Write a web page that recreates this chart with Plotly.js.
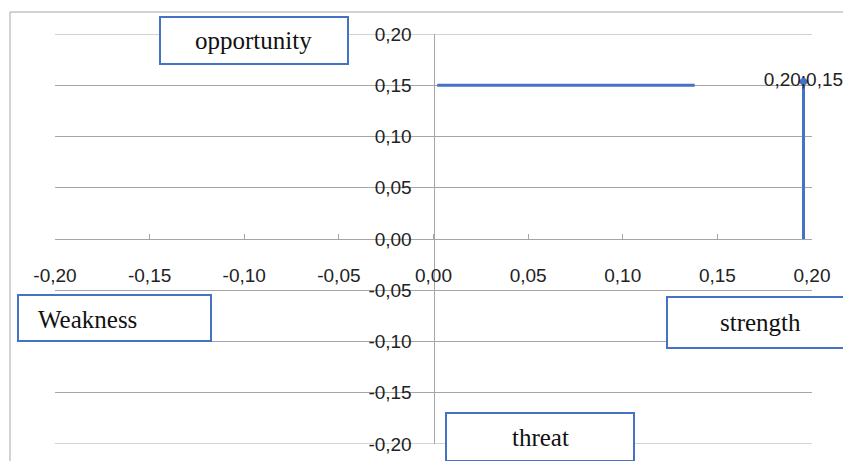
<!DOCTYPE html>
<html>
<head>
<meta charset="utf-8">
<script src="https://cdn.plot.ly/plotly-3.0.1.min.js"></script>
<style>html,body{margin:0;padding:0;background:#fff;}#chart{width:843px;height:461px;}</style>
</head>
<body>
<div id="chart"></div>
<script>
// Data
const horizX = [0.002, 0.138];
const horizY = [0.15, 0.15];
const vertX = [0.1955, 0.1955];
const vertY = [0.0, 0.1535];
const pointX = [0.1955];
const pointY = [0.1535];
const pointLabel = ['0,20;0,15'];
const tickVals = [-0.20, -0.15, -0.10, -0.05, 0.00, 0.05, 0.10, 0.15, 0.20];
const tickText = ['-0,20', '-0,15', '-0,10', '-0,05', '0,00', '0,05', '0,10', '0,15', '0,20'];
const boxLabels = ['opportunity', 'Weakness', 'strength', 'threat'];

const blue = '#4472C4';
const grid = '#a6a6a6';
const tickFont = {family: 'Liberation Sans, Arial, sans-serif', size: 19, color: '#222'};
const boxFont = {family: 'Liberation Serif, Times New Roman, serif', size: 25, color: '#111'};

const traces = [
  {x: horizX, y: horizY, mode: 'lines', line: {color: blue, width: 3}, hoverinfo: 'skip'},
  {x: vertX, y: vertY, mode: 'lines', line: {color: blue, width: 3}, hoverinfo: 'skip'},
  {x: pointX, y: pointY, mode: 'markers+text', text: pointLabel, textposition: 'middle center',
   textfont: tickFont, marker: {symbol: 'diamond', size: 8, color: blue}, cliponaxis: false, hoverinfo: 'skip'}
];

// paper coordinate helpers (plot area 55..812 x, 34..444 y)
const PT = 34, PB = 444;
const px = v => (v - 55) / 757;
const py = v => (PB - v) / (PB - PT);
const tMin = tickVals[0], tMax = tickVals[tickVals.length - 1];

function box(x0, x1, y0, y1) {
  return {type: 'rect', xref: 'paper', yref: 'paper', x0: px(x0), x1: px(x1), y0: py(y1), y1: py(y0),
          line: {color: blue, width: 2}, fillcolor: '#fff', layer: 'above'};
}
function edgeGrid(v) {
  return {type: 'line', xref: 'x', yref: 'y', x0: tMin, x1: tMax, y0: v, y1: v,
          line: {color: grid, width: 1}, layer: 'below'};
}

const layout = {
  width: 843, height: 461,
  margin: {l: 55, r: 31, t: PT, b: 461 - PB, pad: 0},
  paper_bgcolor: '#fff', plot_bgcolor: 'rgba(0,0,0,0)',
  showlegend: false,
  xaxis: {
    range: [tMin, tMax], anchor: 'free', position: 0.5,
    tickvals: tickVals, ticktext: tickText, tickfont: tickFont,
    showgrid: false, zeroline: false, showline: true, linecolor: grid, linewidth: 1,
    ticks: 'inside', ticklen: 5, tickcolor: grid, ticklabelstandoff: 19, fixedrange: true
  },
  yaxis: {
    range: [tMin, tMax], anchor: 'free', position: 0.5,
    tickvals: tickVals, ticktext: tickText, tickfont: tickFont,
    showgrid: true, gridcolor: grid, gridwidth: 1, zeroline: false, showline: true, linecolor: grid, linewidth: 1,
    ticks: '', ticklabelstandoff: 18, fixedrange: true
  },
  shapes: [
    {type: 'rect', xref: 'paper', yref: 'paper', x0: px(10), x1: 1.3, y0: -0.3, y1: py(12),
     line: {color: grid, width: 1}, fillcolor: 'rgba(0,0,0,0)', layer: 'below'},
    edgeGrid(tMin),
    edgeGrid(tMax),
    box(160, 348, 17, 64),
    box(18, 211, 295, 341),
    box(667, 856, 297, 348),
    box(446, 634, 413, 461)
  ],
  annotations: [
    {text: boxLabels[0], xref: 'paper', yref: 'paper', x: px(254), y: py(40), xanchor: 'center', yanchor: 'middle', showarrow: false, font: boxFont},
    {text: boxLabels[1], xref: 'paper', yref: 'paper', x: px(36), y: py(319), xanchor: 'left', yanchor: 'middle', showarrow: false, font: boxFont},
    {text: boxLabels[2], xref: 'paper', yref: 'paper', x: px(760), y: py(322), xanchor: 'center', yanchor: 'middle', showarrow: false, font: boxFont},
    {text: boxLabels[3], xref: 'paper', yref: 'paper', x: px(540), y: py(437), xanchor: 'center', yanchor: 'middle', showarrow: false, font: boxFont}
  ]
};

Plotly.newPlot('chart', traces, layout, {displayModeBar: false, staticPlot: true});
</script>
</body>
</html>
